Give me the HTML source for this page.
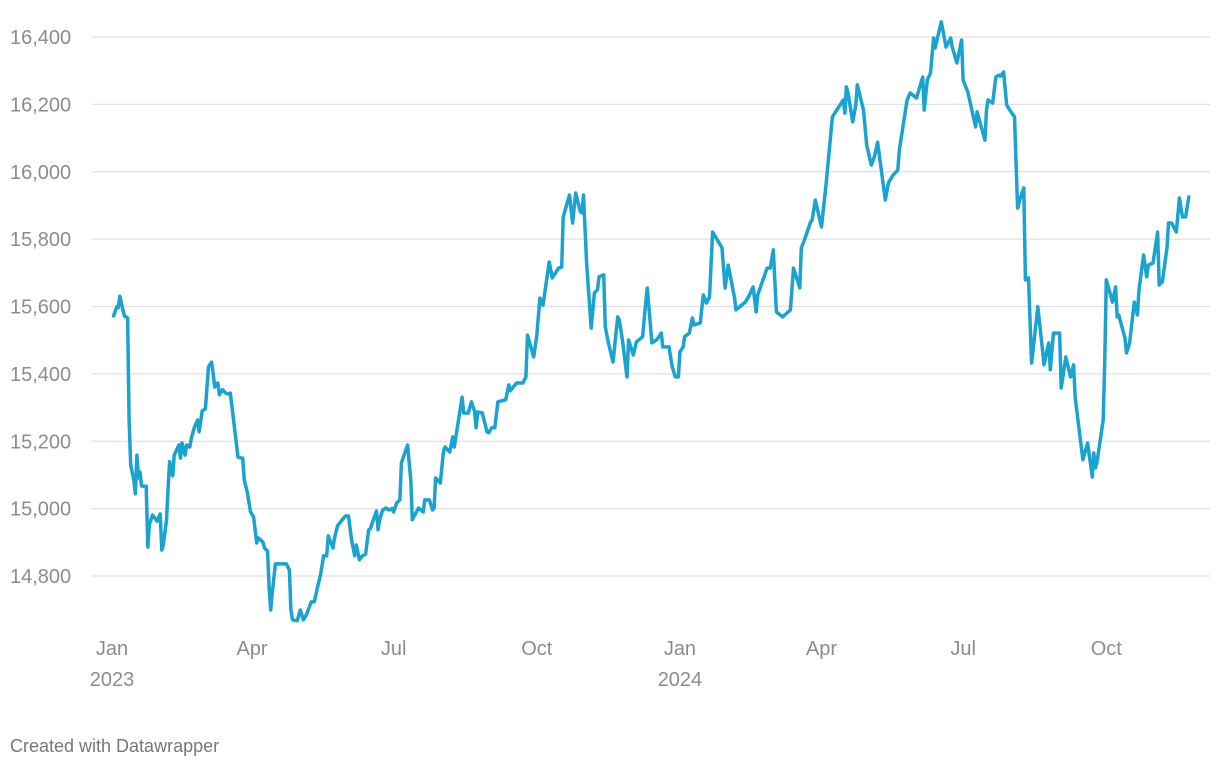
<!DOCTYPE html>
<html><head><meta charset="utf-8">
<style>
body{margin:0;background:#fff;font-family:"Liberation Sans",sans-serif;}
svg{display:block}
</style></head>
<body>
<svg id="chart" width="1220" height="768" viewBox="0 0 1220 768" xmlns="http://www.w3.org/2000/svg">
<g id="grid"></g>
<g id="yaxis"></g>
<g id="xaxis"></g>
<g id="series"></g>
<text x="10" y="752" font-size="18" fill="#777">Created with Datawrapper</text>
</svg>
<script>
const yTicks=[14800,15000,15200,15400,15600,15800,16000,16200,16400];
const yTickLabels=["14,800","15,000","15,200","15,400","15,600","15,800","16,000","16,200","16,400"];
const xTickDays=[0,90,181,273,365,456,547,639];
const xTickLabels=["Jan","Apr","Jul","Oct","Jan","Apr","Jul","Oct"];
const xTickYears=["2023","","","","2024","","",""];
// days since 2023-01-01
const days=[1,3,4,5,7,8,10,11,12,14,15,16,17,18,19,22,23,24,26,29,31,32,33,35,36,37,39,40,43,44,45,47,48,50,51,53,55,56,58,60,62,64,65,66,68,69,71,73,75,76,81,83,84,85,87,89,91,93,94,97,98,100,101,102,103,105,112,114,115,116,119,121,123,125,128,130,132,134,136,138,139,142,143,145,148,150,152,154,156,157,159,161,163,165,166,168,170,171,172,174,176,178,180,181,183,185,186,190,192,193,197,200,201,204,206,207,208,211,213,214,217,219,220,225,226,229,231,233,234,235,238,241,242,244,246,248,253,255,256,260,264,266,267,271,273,275,277,281,283,287,289,290,294,296,298,301,302,303,305,308,310,312,313,316,317,319,322,325,326,328,331,332,335,337,341,343,344,347,350,353,354,358,360,362,364,365,367,368,371,373,374,378,380,382,384,386,388,392,394,396,400,401,407,409,412,414,415,421,423,425,427,431,436,438,442,443,445,449,450,452,456,459,463,470,471,472,473,476,478,479,483,485,488,490,492,497,499,502,505,506,511,513,517,521,522,524,526,528,529,533,536,539,540,543,546,547,550,555,556,561,562,563,566,568,570,571,573,575,577,580,582,584,586,587,589,591,595,598,599,602,603,605,609,610,613,616,618,619,624,627,630,631,632,633,637,638,639,643,645,646,647,651,652,654,657,659,660,663,665,666,669,672,673,675,678,679,681,684,686,688,690,692,694];
const values=[15572,15599,15596,15631,15590,15572,15566,15263,15130,15085,15044,15159,15091,15109,15067,15067,14886,14952,14981,14963,14984,14877,14892,14966,15055,15139,15097,15159,15189,15150,15195,15159,15189,15183,15210,15242,15263,15228,15290,15296,15421,15435,15403,15361,15373,15338,15353,15343,15340,15343,15153,15150,15150,15085,15047,14990,14975,14898,14913,14901,14883,14874,14759,14699,14752,14836,14836,14818,14699,14670,14667,14699,14670,14685,14723,14723,14765,14803,14860,14860,14919,14883,14913,14949,14967,14978,14978,14907,14860,14892,14848,14860,14865,14937,14940,14967,14993,14937,14967,14996,15002,14996,15000,14990,15017,15026,15136,15189,15085,14967,15002,14990,15026,15026,14996,15002,15091,15076,15168,15183,15168,15213,15183,15331,15284,15284,15317,15290,15240,15287,15284,15228,15225,15240,15240,15317,15323,15367,15350,15373,15373,15391,15515,15450,15515,15625,15604,15732,15685,15714,15717,15866,15931,15848,15937,15881,15878,15931,15729,15536,15640,15650,15688,15694,15539,15492,15435,15569,15560,15501,15391,15501,15456,15495,15510,15611,15655,15492,15501,15521,15480,15480,15421,15391,15391,15465,15480,15510,15521,15566,15545,15551,15634,15610,15628,15821,15806,15774,15655,15723,15628,15590,15613,15628,15658,15584,15634,15714,15714,15768,15584,15569,15590,15714,15655,15774,15797,15851,15857,15916,15836,15967,16163,16213,16174,16252,16234,16148,16198,16258,16183,16079,16020,16044,16088,15916,15967,15990,16005,16064,16213,16234,16219,16281,16183,16272,16293,16397,16367,16445,16370,16397,16370,16323,16391,16272,16237,16133,16178,16094,16183,16213,16204,16281,16287,16284,16296,16198,16183,16163,15892,15925,15952,15679,15685,15432,15599,15471,15427,15492,15412,15521,15521,15358,15450,15391,15427,15329,15145,15195,15094,15165,15121,15136,15263,15432,15679,15613,15658,15569,15575,15506,15462,15492,15613,15575,15649,15753,15688,15723,15729,15821,15664,15673,15774,15848,15848,15821,15922,15866,15866,15925];

const NS="http://www.w3.org/2000/svg";
const x0=112, pxPerDay=1.556;
function xs(d){return x0+d*pxPerDay;}
function ys(v){return 37+(16400-v)*(576-37)/1600;}

const grid=document.getElementById('grid'), yaxis=document.getElementById('yaxis'), xaxis=document.getElementById('xaxis'), series=document.getElementById('series');
yTicks.forEach((t,i)=>{
  const l=document.createElementNS(NS,'line');
  
  
  l.setAttribute('x1',92);l.setAttribute('x2',1210);
  l.setAttribute('y1',ys(t));l.setAttribute('y2',ys(t));
  l.setAttribute('stroke','#e1e1e1');l.setAttribute('stroke-width','1.3');
  grid.appendChild(l);
  const tx=document.createElementNS(NS,'text');
  
  
  tx.setAttribute('x',10);tx.setAttribute('y',ys(t)+7);
  tx.setAttribute('font-size','20');tx.setAttribute('fill','#8c8c8c');
  tx.textContent=yTickLabels[i];
  yaxis.appendChild(tx);
});
xTickDays.forEach((d,i)=>{
  const tx=document.createElementNS(NS,'text');
  
  
  tx.setAttribute('x',xs(d));tx.setAttribute('y',655);
  tx.setAttribute('text-anchor','middle');
  tx.setAttribute('font-size','20');tx.setAttribute('fill','#8c8c8c');
  tx.textContent=xTickLabels[i];
  xaxis.appendChild(tx);
  if(xTickYears[i]){
    const ty=document.createElementNS(NS,'text');
    
    
    ty.setAttribute('x',xs(d));ty.setAttribute('y',686);
    ty.setAttribute('text-anchor','middle');
    ty.setAttribute('font-size','20');ty.setAttribute('fill','#8c8c8c');
    ty.textContent=xTickYears[i];
    xaxis.appendChild(ty);
  }
});
const p=document.createElementNS(NS,'path');


p.setAttribute('d',days.map((d,i)=>(i?'L':'M')+xs(d).toFixed(1)+','+ys(values[i]).toFixed(1)).join(''));
p.setAttribute('fill','none');p.setAttribute('stroke','#1aa3cf');
p.setAttribute('stroke-width','3.5');p.setAttribute('stroke-linejoin','round');p.setAttribute('stroke-linecap','round');
series.appendChild(p);
</script>
</body></html>
